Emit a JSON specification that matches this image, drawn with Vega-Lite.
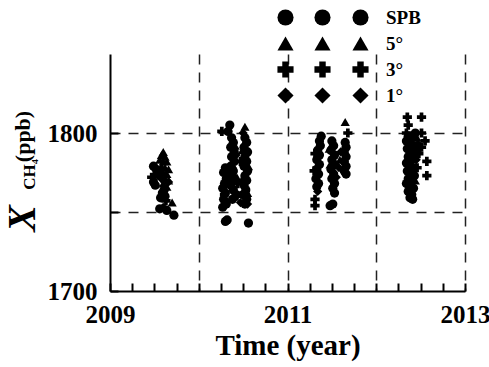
{
  "$schema": "https://vega.github.io/schema/vega-lite/v6.json",
  "width": 355,
  "height": 237,
  "autosize": {"type": "none"},
  "padding": {"left": 110, "top": 54, "right": 24, "bottom": 76},
  "config": {
    "view": {"stroke": null},
    "font": "Liberation Serif"
  },
  "data": {
    "values": [
      {"t": 2009.60, "v": 1788, "s": "5°"}, {"t": 2009.58, "v": 1786, "s": "5°"}, {"t": 2009.62, "v": 1785, "s": "5°"},
      {"t": 2009.56, "v": 1783, "s": "5°"}, {"t": 2009.60, "v": 1782, "s": "5°"}, {"t": 2009.64, "v": 1782, "s": "5°"},
      {"t": 2009.58, "v": 1779, "s": "5°"}, {"t": 2009.62, "v": 1778, "s": "5°"}, {"t": 2009.66, "v": 1777, "s": "5°"},
      {"t": 2009.60, "v": 1775, "s": "5°"}, {"t": 2009.64, "v": 1774, "s": "5°"}, {"t": 2009.57, "v": 1773, "s": "5°"},
      {"t": 2009.62, "v": 1771, "s": "5°"}, {"t": 2009.66, "v": 1770, "s": "5°"}, {"t": 2009.60, "v": 1768, "s": "5°"},
      {"t": 2009.64, "v": 1766, "s": "5°"}, {"t": 2009.70, "v": 1756, "s": "5°"},
      {"t": 2009.49, "v": 1779, "s": "SPB"}, {"t": 2009.52, "v": 1777, "s": "SPB"}, {"t": 2009.49, "v": 1769, "s": "SPB"},
      {"t": 2009.51, "v": 1767, "s": "SPB"}, {"t": 2009.59, "v": 1762, "s": "SPB"}, {"t": 2009.61, "v": 1764, "s": "SPB"},
      {"t": 2009.57, "v": 1759, "s": "SPB"}, {"t": 2009.56, "v": 1752, "s": "SPB"}, {"t": 2009.64, "v": 1751, "s": "SPB"},
      {"t": 2009.72, "v": 1748, "s": "SPB"}, {"t": 2009.55, "v": 1775, "s": "SPB"}, {"t": 2009.62, "v": 1760, "s": "SPB"},
      {"t": 2009.47, "v": 1772, "s": "3°"}, {"t": 2009.53, "v": 1774, "s": "3°"}, {"t": 2009.63, "v": 1757, "s": "3°"},
      {"t": 2009.60, "v": 1753, "s": "1°"}, {"t": 2009.66, "v": 1769, "s": "1°"}, {"t": 2009.58, "v": 1771, "s": "1°"},

      {"t": 2010.35, "v": 1805, "s": "SPB"}, {"t": 2010.26, "v": 1801, "s": "3°"}, {"t": 2010.52, "v": 1804, "s": "5°"},
      {"t": 2010.50, "v": 1800, "s": "1°"}, {"t": 2010.33, "v": 1801, "s": "SPB"},
      {"t": 2010.30, "v": 1778, "s": "SPB"}, {"t": 2010.28, "v": 1775, "s": "SPB"}, {"t": 2010.31, "v": 1771, "s": "SPB"},
      {"t": 2010.29, "v": 1768, "s": "SPB"}, {"t": 2010.27, "v": 1765, "s": "SPB"}, {"t": 2010.30, "v": 1762, "s": "SPB"},
      {"t": 2010.28, "v": 1758, "s": "SPB"}, {"t": 2010.31, "v": 1755, "s": "SPB"}, {"t": 2010.27, "v": 1753, "s": "SPB"},
      {"t": 2010.29, "v": 1761, "s": "3°"}, {"t": 2010.30, "v": 1757, "s": "1°"},
      {"t": 2010.37, "v": 1797, "s": "SPB"}, {"t": 2010.39, "v": 1794, "s": "SPB"}, {"t": 2010.36, "v": 1791, "s": "SPB"},
      {"t": 2010.40, "v": 1788, "s": "SPB"}, {"t": 2010.37, "v": 1785, "s": "SPB"}, {"t": 2010.40, "v": 1782, "s": "SPB"},
      {"t": 2010.36, "v": 1779, "s": "SPB"}, {"t": 2010.39, "v": 1776, "s": "SPB"}, {"t": 2010.37, "v": 1773, "s": "SPB"},
      {"t": 2010.40, "v": 1770, "s": "SPB"}, {"t": 2010.36, "v": 1767, "s": "SPB"}, {"t": 2010.39, "v": 1764, "s": "SPB"},
      {"t": 2010.42, "v": 1761, "s": "SPB"}, {"t": 2010.38, "v": 1758, "s": "SPB"},
      {"t": 2010.41, "v": 1792, "s": "5°"}, {"t": 2010.38, "v": 1780, "s": "5°"}, {"t": 2010.43, "v": 1772, "s": "5°"},
      {"t": 2010.42, "v": 1786, "s": "1°"}, {"t": 2010.35, "v": 1775, "s": "1°"},
      {"t": 2010.44, "v": 1768, "s": "3°"}, {"t": 2010.43, "v": 1760, "s": "3°"},
      {"t": 2010.52, "v": 1797, "s": "SPB"}, {"t": 2010.54, "v": 1794, "s": "SPB"}, {"t": 2010.51, "v": 1791, "s": "SPB"},
      {"t": 2010.55, "v": 1788, "s": "SPB"}, {"t": 2010.52, "v": 1785, "s": "SPB"}, {"t": 2010.54, "v": 1782, "s": "SPB"},
      {"t": 2010.51, "v": 1779, "s": "SPB"}, {"t": 2010.55, "v": 1776, "s": "SPB"}, {"t": 2010.52, "v": 1773, "s": "SPB"},
      {"t": 2010.54, "v": 1770, "s": "SPB"}, {"t": 2010.51, "v": 1767, "s": "SPB"}, {"t": 2010.53, "v": 1764, "s": "SPB"},
      {"t": 2010.50, "v": 1761, "s": "SPB"}, {"t": 2010.54, "v": 1758, "s": "SPB"}, {"t": 2010.52, "v": 1755, "s": "SPB"},
      {"t": 2010.49, "v": 1789, "s": "5°"}, {"t": 2010.56, "v": 1779, "s": "5°"}, {"t": 2010.48, "v": 1770, "s": "5°"},
      {"t": 2010.55, "v": 1762, "s": "5°"}, {"t": 2010.47, "v": 1756, "s": "1°"}, {"t": 2010.55, "v": 1755, "s": "1°"},
      {"t": 2010.47, "v": 1782, "s": "3°"},
      {"t": 2010.32, "v": 1745, "s": "SPB"}, {"t": 2010.30, "v": 1744, "s": "SPB"}, {"t": 2010.56, "v": 1743, "s": "SPB"},

      {"t": 2011.38, "v": 1798, "s": "SPB"}, {"t": 2011.36, "v": 1795, "s": "SPB"}, {"t": 2011.37, "v": 1792, "s": "SPB"},
      {"t": 2011.34, "v": 1789, "s": "SPB"}, {"t": 2011.36, "v": 1786, "s": "SPB"}, {"t": 2011.33, "v": 1783, "s": "SPB"},
      {"t": 2011.36, "v": 1780, "s": "SPB"}, {"t": 2011.33, "v": 1777, "s": "SPB"}, {"t": 2011.35, "v": 1774, "s": "SPB"},
      {"t": 2011.32, "v": 1771, "s": "SPB"}, {"t": 2011.35, "v": 1768, "s": "SPB"}, {"t": 2011.33, "v": 1766, "s": "SPB"},
      {"t": 2011.31, "v": 1758, "s": "3°"}, {"t": 2011.31, "v": 1754, "s": "3°"}, {"t": 2011.30, "v": 1776, "s": "3°"},
      {"t": 2011.31, "v": 1787, "s": "3°"}, {"t": 2011.34, "v": 1763, "s": "1°"},
      {"t": 2011.50, "v": 1795, "s": "SPB"}, {"t": 2011.52, "v": 1792, "s": "SPB"}, {"t": 2011.49, "v": 1789, "s": "SPB"},
      {"t": 2011.53, "v": 1786, "s": "SPB"}, {"t": 2011.50, "v": 1783, "s": "SPB"}, {"t": 2011.53, "v": 1780, "s": "SPB"},
      {"t": 2011.49, "v": 1777, "s": "SPB"}, {"t": 2011.52, "v": 1774, "s": "SPB"}, {"t": 2011.50, "v": 1771, "s": "SPB"},
      {"t": 2011.53, "v": 1768, "s": "SPB"}, {"t": 2011.51, "v": 1765, "s": "SPB"}, {"t": 2011.53, "v": 1762, "s": "SPB"},
      {"t": 2011.51, "v": 1755, "s": "SPB"}, {"t": 2011.48, "v": 1754, "s": "SPB"},
      {"t": 2011.47, "v": 1790, "s": "5°"}, {"t": 2011.48, "v": 1780, "s": "5°"}, {"t": 2011.55, "v": 1772, "s": "1°"},
      {"t": 2011.65, "v": 1794, "s": "SPB"}, {"t": 2011.66, "v": 1791, "s": "SPB"}, {"t": 2011.64, "v": 1788, "s": "SPB"},
      {"t": 2011.66, "v": 1785, "s": "SPB"}, {"t": 2011.64, "v": 1782, "s": "SPB"}, {"t": 2011.66, "v": 1779, "s": "SPB"},
      {"t": 2011.64, "v": 1776, "s": "SPB"}, {"t": 2011.66, "v": 1774, "s": "SPB"},
      {"t": 2011.65, "v": 1807, "s": "5°"}, {"t": 2011.59, "v": 1783, "s": "5°"}, {"t": 2011.68, "v": 1800, "s": "3°"},
      {"t": 2011.58, "v": 1778, "s": "1°"}, {"t": 2011.60, "v": 1788, "s": "1°"},

      {"t": 2012.35, "v": 1810, "s": "3°"}, {"t": 2012.36, "v": 1805, "s": "3°"}, {"t": 2012.34, "v": 1800, "s": "3°"},
      {"t": 2012.36, "v": 1798, "s": "SPB"}, {"t": 2012.40, "v": 1797, "s": "SPB"}, {"t": 2012.34, "v": 1795, "s": "SPB"},
      {"t": 2012.38, "v": 1793, "s": "SPB"}, {"t": 2012.42, "v": 1792, "s": "SPB"}, {"t": 2012.35, "v": 1790, "s": "SPB"},
      {"t": 2012.39, "v": 1788, "s": "SPB"}, {"t": 2012.43, "v": 1787, "s": "SPB"}, {"t": 2012.36, "v": 1785, "s": "SPB"},
      {"t": 2012.40, "v": 1783, "s": "SPB"}, {"t": 2012.34, "v": 1781, "s": "SPB"}, {"t": 2012.38, "v": 1780, "s": "SPB"},
      {"t": 2012.42, "v": 1778, "s": "SPB"}, {"t": 2012.35, "v": 1776, "s": "SPB"}, {"t": 2012.39, "v": 1775, "s": "SPB"},
      {"t": 2012.43, "v": 1773, "s": "SPB"}, {"t": 2012.36, "v": 1771, "s": "SPB"}, {"t": 2012.40, "v": 1770, "s": "SPB"},
      {"t": 2012.34, "v": 1768, "s": "SPB"}, {"t": 2012.38, "v": 1766, "s": "SPB"}, {"t": 2012.42, "v": 1765, "s": "SPB"},
      {"t": 2012.36, "v": 1763, "s": "SPB"}, {"t": 2012.40, "v": 1761, "s": "SPB"}, {"t": 2012.38, "v": 1759, "s": "SPB"},
      {"t": 2012.41, "v": 1758, "s": "SPB"}, {"t": 2012.47, "v": 1790, "s": "SPB"}, {"t": 2012.44, "v": 1800, "s": "SPB"},
      {"t": 2012.51, "v": 1810, "s": "3°"}, {"t": 2012.51, "v": 1800, "s": "3°"}, {"t": 2012.51, "v": 1791, "s": "3°"},
      {"t": 2012.57, "v": 1782, "s": "3°"}, {"t": 2012.57, "v": 1773, "s": "3°"}, {"t": 2012.46, "v": 1778, "s": "3°"},
      {"t": 2012.48, "v": 1787, "s": "3°"}, {"t": 2012.55, "v": 1795, "s": "3°"},
      {"t": 2012.47, "v": 1793, "s": "1°"}, {"t": 2012.45, "v": 1783, "s": "1°"},
      {"t": 2012.46, "v": 1797, "s": "5°"}, {"t": 2012.44, "v": 1770, "s": "5°"}
    ]
  },
  "resolve": {
    "scale": {"x": "shared", "y": "shared", "shape": "shared"},
    "axis": {"x": "independent", "y": "independent"},
    "legend": {"shape": "independent"}
  },
  "layer": [
    {
      "mark": {"type": "point", "filled": true, "color": "black", "opacity": 1, "size": 85, "strokeWidth": 0},
      "encoding": {
        "x": {
          "field": "t", "type": "quantitative",
          "scale": {"domain": [2009, 2013], "nice": false, "zero": false},
          "axis": {
            "orient": "bottom",
            "values": [2009, 2010, 2011, 2012, 2013],
            "labelExpr": "datum.value % 2 === 1 ? '' + datum.value : ''",
            "labelOverlap": false, "labelFlush": false, "labelBound": false,
            "labelFont": "Liberation Serif", "labelFontWeight": "bold", "labelFontSize": 25, "labelColor": "black",
            "labelPadding": 11,
            "ticks": false, "tickSize": 0,
            "domainColor": "black", "domainWidth": 2,
            "grid": true, "gridDash": [10, 8], "gridColor": "#222", "gridWidth": 1.5,
            "gridOpacity": {"condition": {"test": "datum.value > 2009", "value": 1}, "value": 0},
            "title": "Time (year)",
            "titleFont": "Liberation Serif", "titleFontWeight": "bold", "titleFontSize": 29, "titleColor": "black",
            "titleAngle": 0, "titleAlign": "center", "titleBaseline": "middle", "titleX": 177.5, "titleY": 54
          }
        },
        "y": {
          "field": "v", "type": "quantitative",
          "scale": {"domain": [1700, 1850], "nice": false, "zero": false},
          "axis": {
            "orient": "left",
            "values": [1700, 1750, 1800],
            "labelExpr": "datum.value % 100 === 0 ? '' + datum.value : ''",
            "labelOverlap": false, "labelFlush": false, "labelBound": false,
            "labelFont": "Liberation Serif", "labelFontWeight": "bold", "labelFontSize": 25, "labelColor": "black",
            "labelPadding": 13,
            "ticks": false, "tickSize": 0,
            "domainColor": "black", "domainWidth": 2,
            "grid": true, "gridDash": [10, 8], "gridColor": "#222", "gridWidth": 1.5,
            "gridOpacity": {"condition": {"test": "datum.value > 1700", "value": 1}, "value": 0},
            "title": "(ppb)",
            "titleFont": "Liberation Serif", "titleFontWeight": "bold", "titleFontSize": 22, "titleColor": "black",
            "titleAngle": -90, "titleAlign": "center", "titleBaseline": "middle", "titleX": -88, "titleY": 82
          }
        },
        "shape": {
          "field": "s", "type": "nominal",
          "scale": {"domain": ["SPB", "5°", "3°", "1°"], "range": ["circle", "triangle-up", "cross", "diamond"]},
          "legend": {
            "orient": "none", "legendX": 241, "legendY": -46, "title": null, "padding": 0,
            "symbolSize": 260, "symbolFillColor": "black", "symbolOpacity": 1, "symbolStrokeWidth": 0,
            "labelFont": "Liberation Serif", "labelFontWeight": "bold", "labelFontSize": 19, "labelColor": "black",
            "labelOffset": 16, "rowPadding": 6
          }
        }
      }
    },
    {
      "transform": [{"filter": "false"}],
      "mark": {"type": "point", "filled": true, "color": "black", "opacity": 1, "size": 85},
      "encoding": {
        "x": {
          "field": "t", "type": "quantitative",
          "axis": {
            "orient": "bottom", "offset": -8,
            "values": [2009, 2009.25, 2009.5, 2009.75, 2010, 2010.25, 2010.5, 2010.75, 2011, 2011.25, 2011.5, 2011.75, 2012, 2012.25, 2012.5, 2012.75, 2013],
            "domain": false, "labels": false, "grid": false, "title": null,
            "ticks": true, "tickSize": 8, "tickWidth": 2, "tickColor": "black"
          }
        },
        "y": {
          "field": "v", "type": "quantitative",
          "axis": {
            "orient": "left", "domain": false, "ticks": false, "labels": false, "grid": false,
            "title": "X",
            "titleFont": "Liberation Serif", "titleFontWeight": "bold", "titleFontStyle": "italic", "titleFontSize": 40, "titleColor": "black",
            "titleAngle": -90, "titleAlign": "center", "titleBaseline": "middle", "titleX": -88, "titleY": 164
          }
        },
        "shape": {
          "field": "s", "type": "nominal",
          "legend": {
            "orient": "none", "legendX": 166, "legendY": -46, "title": null, "padding": 0,
            "symbolSize": 260, "symbolFillColor": "black", "symbolOpacity": 1, "symbolStrokeWidth": 0,
            "labelOpacity": 0, "labelFontSize": 19, "rowPadding": 6
          }
        }
      }
    },
    {
      "transform": [{"filter": "false"}],
      "mark": {"type": "point", "filled": true, "color": "black", "opacity": 1, "size": 85},
      "encoding": {
        "x": {"field": "t", "type": "quantitative", "axis": null},
        "y": {
          "field": "v", "type": "quantitative",
          "axis": {
            "orient": "left", "offset": -8,
            "values": [1700, 1750, 1800],
            "domain": false, "labels": false, "grid": false,
            "ticks": true, "tickSize": 8, "tickWidth": 2, "tickColor": "black",
            "title": "CH₄",
            "titleFont": "Liberation Serif", "titleFontWeight": "bold", "titleFontSize": 17, "titleColor": "black",
            "titleAngle": -90, "titleAlign": "center", "titleBaseline": "middle", "titleX": -89, "titleY": 120
          }
        },
        "shape": {
          "field": "s", "type": "nominal",
          "legend": {
            "orient": "none", "legendX": 203, "legendY": -46, "title": null, "padding": 0,
            "symbolSize": 260, "symbolFillColor": "black", "symbolOpacity": 1, "symbolStrokeWidth": 0,
            "labelOpacity": 0, "labelFontSize": 19, "rowPadding": 6
          }
        }
      }
    }
  ]
}
